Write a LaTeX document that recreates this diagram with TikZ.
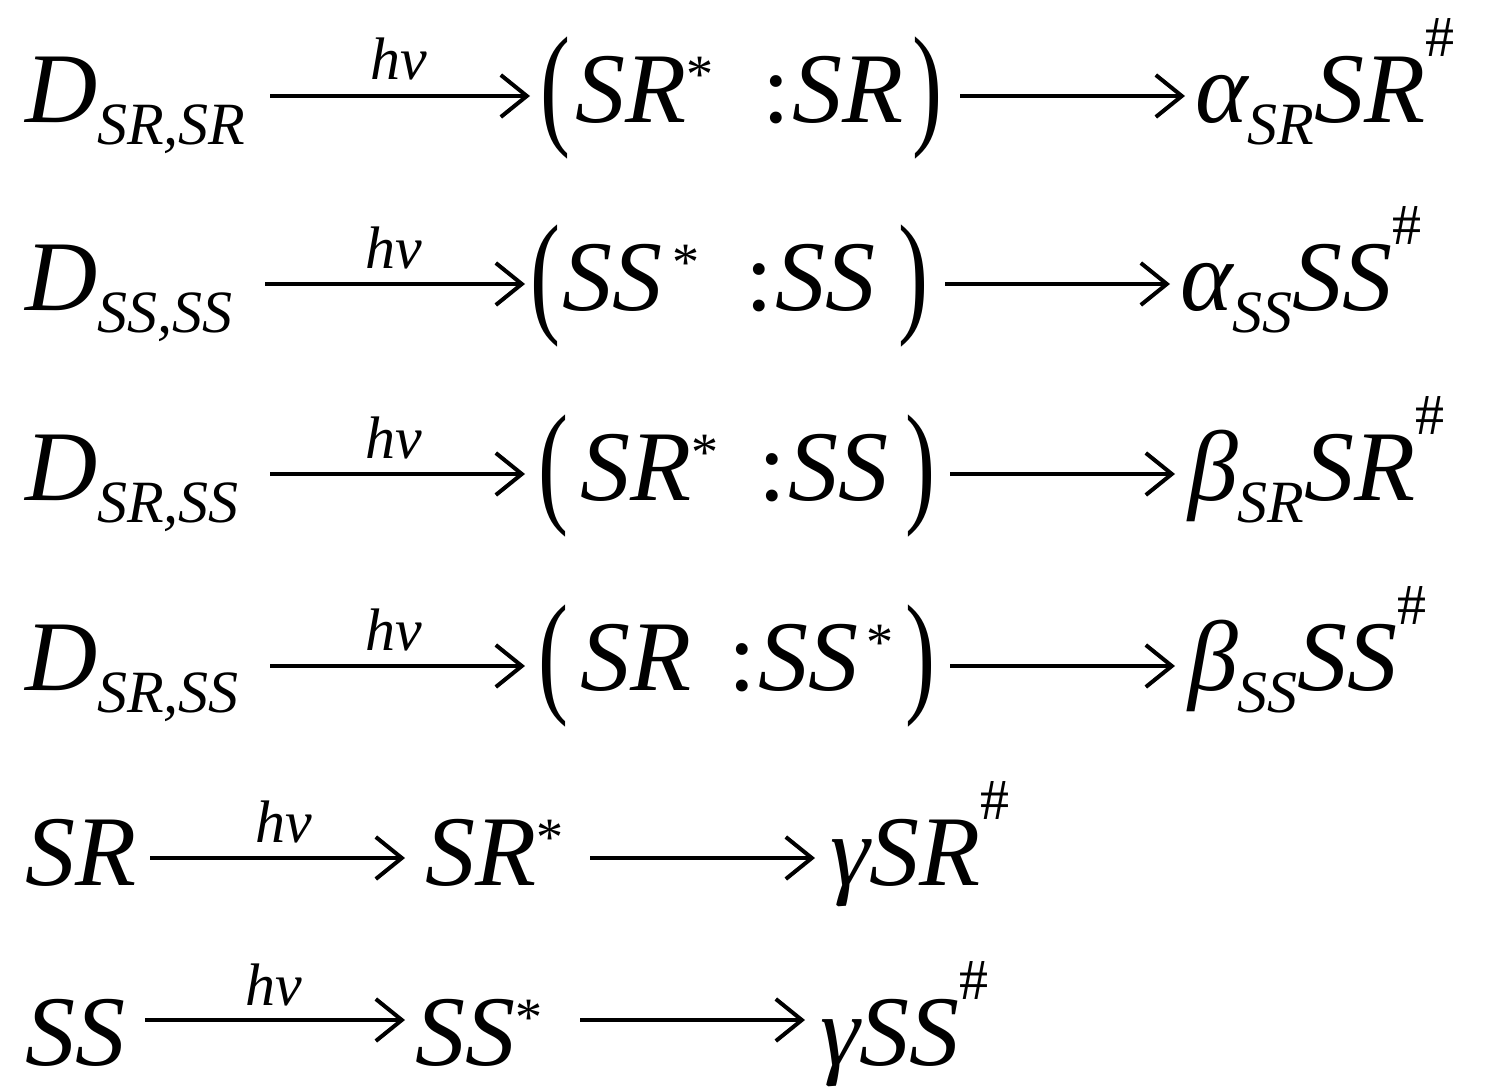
\documentclass[tikz,border=0pt]{standalone}
\usepackage{fontspec}
\setmainfont{Liberation Serif}
\usetikzlibrary{arrows.meta}
\newcommand\mn[1]{{\fontsize{100}{100}\selectfont\itshape #1}}
\newcommand\sbs[1]{\raisebox{-22pt}{\fontsize{60}{60}\selectfont\itshape #1}}
\newcommand\sps{\raisebox{30pt}{\fontsize{54}{54}\selectfont *}}
\newcommand\sph{\raisebox{66pt}{\fontsize{58}{58}\selectfont\#}}
\newcommand\pl{\raisebox{-8pt}{\scalebox{0.9}[1.35]{\fontsize{100}{100}\selectfont(}}}
\newcommand\pr{\raisebox{-8pt}{\scalebox{0.9}[1.35]{\fontsize{100}{100}\selectfont)}}}
\newcommand\cln{{\fontsize{100}{100}\selectfont :}}
\newcommand\hnu{{\fontsize{60}{60}\selectfont\itshape hν}}
\begin{document}
\begin{tikzpicture}[x=1pt,y=-1pt,
  t/.style={anchor=base west,inner sep=0pt,outer sep=0pt},
  arr/.style={line width=4pt,-{Straight Barb[length=26pt,width=42pt,line width=4pt]}}]
\useasboundingbox (0,0) rectangle (1495,1086);
% row 1
\node[t] (l1) at (25,123) {\mn{D}\sbs{SR,SR}};
\coordinate (a1s) at (270,96); \coordinate (a1e) at (530,96);
\node[t] (h1) at (370,80) {\hnu};
\node[t] (p1) at (540,123) {\pl};
\node[t] (x1) at (575,123) {\mn{SR}};
\node[t] (s1) at (686,123) {\sps};
\node[t] (c1) at (762,123) {\cln};
\node[t] (y1) at (792,123) {\mn{SR}};
\node[t] (q1) at (912,123) {\pr};
\coordinate (b1s) at (960,96); \coordinate (b1e) at (1185,96);
\node[t] (r1) at (1195,123) {\mn{α}\sbs{SR}\mn{SR}\sph};
% row 2
\node[t] (l2) at (25,310) {\mn{D}\sbs{SS,SS}};
\coordinate (a2s) at (265,284); \coordinate (a2e) at (525,284);
\node[t] (h2) at (365,268) {\hnu};
\node[t] (p2) at (530,310) {\pl};
\node[t] (x2) at (562,310) {\mn{SS}};
\node[t] (s2) at (672,310) {\sps};
\node[t] (c2) at (745,310) {\cln};
\node[t] (y2) at (775,310) {\mn{SS}};
\node[t] (q2) at (898,310) {\pr};
\coordinate (b2s) at (945,284); \coordinate (b2e) at (1170,284);
\node[t] (r2) at (1180,310) {\mn{α}\sbs{SS}\mn{SS}\sph};
% row 3
\node[t] (l3) at (25,500) {\mn{D}\sbs{SR,SS}};
\coordinate (a3s) at (270,474); \coordinate (a3e) at (525,474);
\node[t] (h3) at (365,458) {\hnu};
\node[t] (p3) at (538,500) {\pl};
\node[t] (x3) at (580,500) {\mn{SR}};
\node[t] (s3) at (691,500) {\sps};
\node[t] (c3) at (758,500) {\cln};
\node[t] (y3) at (788,500) {\mn{SS}};
\node[t] (q3) at (905,500) {\pr};
\coordinate (b3s) at (950,474); \coordinate (b3e) at (1175,474);
\node[t] (r3) at (1188,500) {\mn{β}\sbs{SR}\mn{SR}\sph};
% row 4
\node[t] (l4) at (25,690) {\mn{D}\sbs{SR,SS}};
\coordinate (a4s) at (270,666); \coordinate (a4e) at (525,666);
\node[t] (h4) at (365,650) {\hnu};
\node[t] (p4) at (538,690) {\pl};
\node[t] (x4) at (580,690) {\mn{SR}};
\node[t] (c4) at (728,690) {\cln};
\node[t] (y4) at (758,690) {\mn{SS}};
\node[t] (s4) at (866,690) {\sps};
\node[t] (q4) at (905,690) {\pr};
\coordinate (b4s) at (950,666); \coordinate (b4e) at (1175,666);
\node[t] (r4) at (1188,690) {\mn{β}\sbs{SS}\mn{SS}\sph};
% row 5
\node[t] (l5) at (25,885) {\mn{SR}};
\coordinate (a5s) at (150,858); \coordinate (a5e) at (405,858);
\node[t] (h5) at (255,842) {\hnu};
\node[t] (m5) at (425,885) {\mn{SR}\sps};
\coordinate (b5s) at (590,858); \coordinate (b5e) at (815,858);
\node[t] (r5) at (830,885) {\mn{γSR}\sph};
% row 6
\node[t] (l6) at (25,1065) {\mn{SS}};
\coordinate (a6s) at (145,1020); \coordinate (a6e) at (405,1020);
\node[t] (h6) at (245,1005) {\hnu};
\node[t] (m6) at (415,1065) {\mn{SS}\sps};
\coordinate (b6s) at (580,1020); \coordinate (b6e) at (805,1020);
\node[t] (r6) at (820,1065) {\mn{γSS}\sph};
\foreach \i in {1,...,6}{\draw[arr] (a\i s) -- (a\i e); \draw[arr] (b\i s) -- (b\i e);}
\end{tikzpicture}
\end{document}
